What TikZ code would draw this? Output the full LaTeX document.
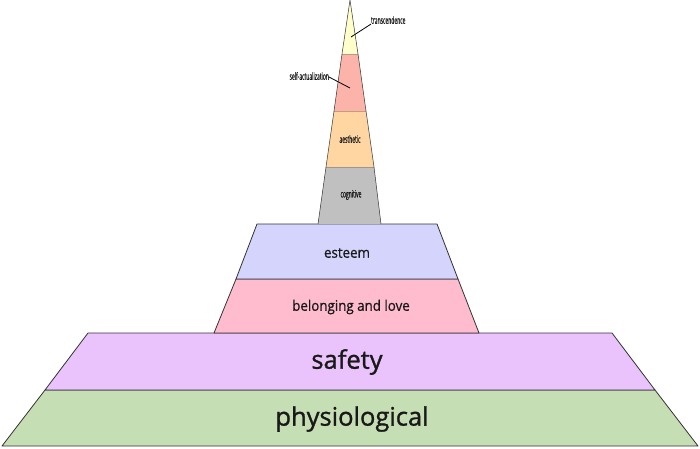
\documentclass[tikz,border=0pt]{standalone}
\usepackage{fontspec}
\setmainfont{Open Sans}
\newfontfamily\semib[FakeBold=1.2]{Open Sans}
\newfontfamily\lblfont[FakeBold=0.8]{Open Sans}
\definecolor{cphys}{RGB}{198,222,180}
\definecolor{csafe}{RGB}{235,195,252}
\definecolor{cbel}{RGB}{255,188,206}
\definecolor{cest}{RGB}{212,212,252}
\definecolor{ccog}{RGB}{192,192,192}
\definecolor{caes}{RGB}{255,214,162}
\definecolor{cself}{RGB}{252,180,170}
\definecolor{ctra}{RGB}{255,255,204}
\tikzset{
  tier/.style={draw=black!80, line width=0.8pt, line join=round},
  big/.style={font=\fontsize{25.5}{28}\semib, inner sep=0pt, text=black!90},
  mid/.style={font=\fontsize{14.5}{16}\lblfont, inner sep=0pt, xscale=0.92, text=black!90},
  tiny/.style={font=\fontsize{10}{11}\lblfont, inner sep=0pt, xscale=0.5, text=black!90},
  leader/.style={draw=black, line width=0.8pt}
}
\begin{document}
\begin{tikzpicture}[x=1pt,y=-1pt]
\useasboundingbox (0,0) rectangle (700,448);
% physiological
\fill[cphys] (2,446) -- (698,446) -- (655,390) -- (45,390) -- cycle;
\draw[tier] (2,446) -- (698,446) -- (655,390) -- (45,390) -- cycle;
% safety
\fill[csafe] (45,390) -- (655,390) -- (612,333) -- (88,333) -- cycle;
\draw[tier] (45,390) -- (655,390) -- (612,333) -- (88,333) -- cycle;
% belonging
\fill[cbel] (214,333) -- (479,333) -- (458,279) -- (236,279) -- cycle;
\draw[tier] (214,333) -- (479,333) -- (458,279) -- (236,279) -- cycle;
% esteem
\fill[cest] (236,279) -- (458,279) -- (437,224) -- (257,224) -- cycle;
\draw[tier] (236,279) -- (458,279) -- (437,224) -- (257,224) -- cycle;
% cognitive
\fill[ccog] (318,224) -- (381,224) -- (374,167) -- (326,167) -- cycle;
\draw[tier, line width=0.5pt] (318,224) -- (326,167) -- (374,167) -- (381,224);
% aesthetic
\fill[caes] (326,167) -- (374,167) -- (366,111) -- (334,111) -- cycle;
\draw[tier, line width=0.5pt] (326,167) -- (334,111) -- (366,111) -- (374,167);
% self-actualization
\fill[cself] (334,111) -- (366,111) -- (358,54) -- (342,54) -- cycle;
\draw[tier, line width=0.5pt] (334,111) -- (342,54) -- (358,54) -- (366,111);
% transcendence
\fill[ctra] (342,54) -- (358,54) -- (350,0) -- cycle;
\draw[tier, line width=0.5pt] (342,54) -- (350,0) -- (358,54);
% labels
\node[big] (phys) at (352,419) {physiological};
\node[big] (safe) at (347,362) {safety};
\node[mid] (bel) at (351,307) {belonging and love};
\node[mid] (est) at (347,253) {esteem};
\node[tiny] (cog) at (351,195) {cognitive};
\node[tiny] (aes) at (350,139) {aesthetic};
\node[tiny, anchor=west] (tra) at (371,20) {transcendence};
\node[tiny, anchor=east] (self) at (329,76) {self-actualization};
\coordinate (traP) at (351,37);
\coordinate (selfP) at (350,88);
\draw[leader] (tra.south west) ++(0,0) -- (traP);
\draw[leader] (self.east) ++(0,1) -- (selfP);
\end{tikzpicture}
\end{document}
